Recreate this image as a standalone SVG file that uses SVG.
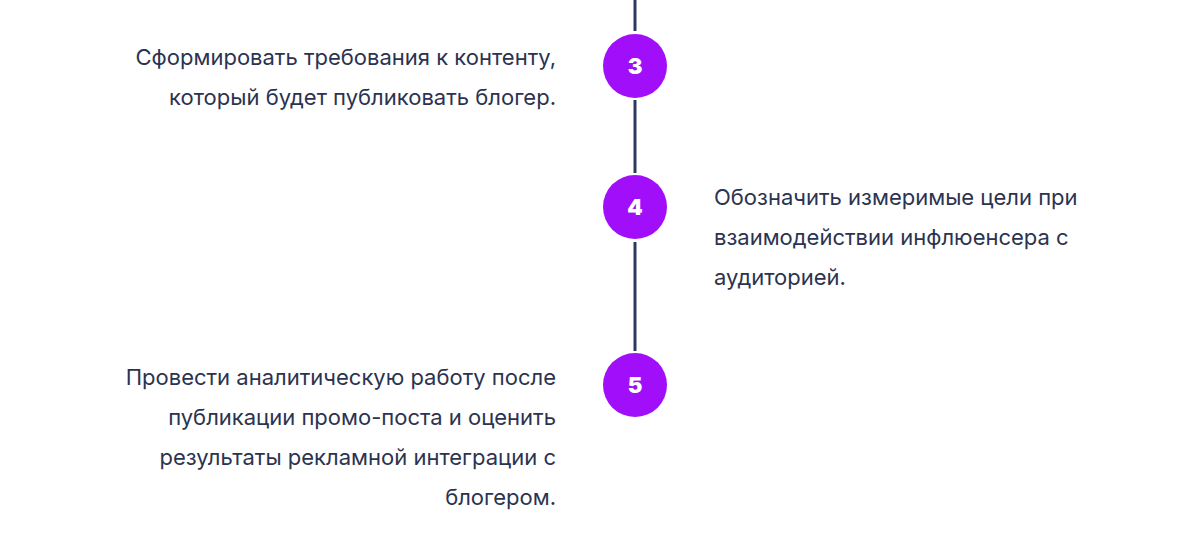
<svg xmlns="http://www.w3.org/2000/svg" width="1200" height="535" viewBox="0 0 1200 535">
<style>
.t{font-family:"Inter","Liberation Sans",sans-serif;font-size:22px;fill:#2b3350}
.r{text-anchor:end}
.c{fill:#a10ffa}
.n{font-family:"Inter","Liberation Sans",sans-serif;font-size:22px;font-weight:900;fill:#fff;text-anchor:middle}
.l{stroke:#2b3a5c;stroke-width:3}
</style>
<rect width="1200" height="535" fill="#fff"/>
<g id="connectors">
<line class="l" x1="635" y1="0" x2="635" y2="31"/>
<line class="l" x1="635" y1="100" x2="635" y2="173"/>
<line class="l" x1="635" y1="242" x2="635" y2="351"/>
</g>
<g id="step3"><circle class="c" cx="635" cy="66" r="32"/><text class="n" x="635" y="74">3</text>
<text class="t r" x="556" y="65">Сформировать требования к контенту,</text>
<text class="t r" x="556" y="105">который будет публиковать блогер.</text></g>
<g id="step4"><circle class="c" cx="635" cy="207" r="32"/><text class="n" x="635" y="215">4</text>
<text class="t" x="714" y="205">Обозначить измеримые цели при</text>
<text class="t" x="714" y="245">взаимодействии инфлюенсера с</text>
<text class="t" x="714" y="285">аудиторией.</text></g>
<g id="step5"><circle class="c" cx="635" cy="385" r="32"/><text class="n" x="635" y="393">5</text>
<text class="t r" x="556" y="385">Провести аналитическую работу после</text>
<text class="t r" x="556" y="425">публикации промо-поста и оценить</text>
<text class="t r" x="556" y="465">результаты рекламной интеграции с</text>
<text class="t r" x="556" y="505">блогером.</text></g>
</svg>
